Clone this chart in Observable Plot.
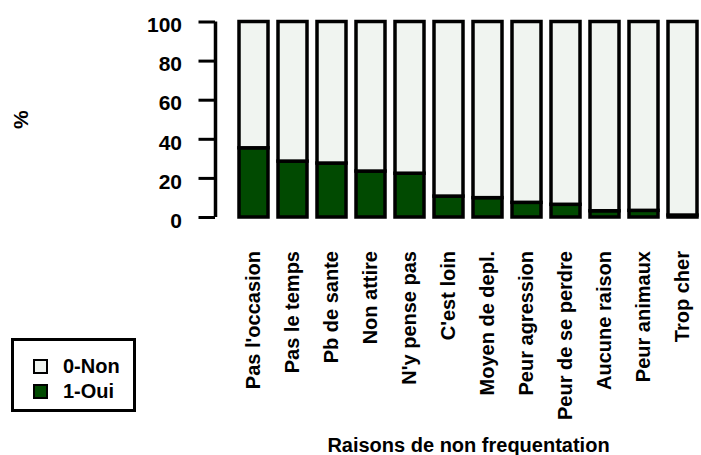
<!DOCTYPE html>
<html>
<head>
<meta charset="utf-8">
<script src="https://cdn.jsdelivr.net/npm/d3@7"></script>
<script src="https://cdn.jsdelivr.net/npm/@observablehq/plot@0.6"></script>
<style>
  html, body { margin: 0; padding: 0; background: #fff; }
  #wrap { position: relative; width: 701px; height: 455px; overflow: hidden; }
  #legend {
    position: absolute; left: 11px; top: 338px; width: 119px; height: 68px;
    border: 3.5px solid #000; background: #fff;
    font-family: "Liberation Sans", Arial, sans-serif; font-weight: bold; font-size: 20px;
  }
  .row { position: absolute; left: 19px; display: flex; align-items: center; }
  .sw { width: 11px; height: 11px; border: 2.5px solid #000; margin-right: 15px; }
</style>
</head>
<body>
<div id="wrap"><div id="chart"></div><div id="legend"></div></div>
<script>
const categories = ["Pas l'occasion", "Pas le temps", "Pb de sante", "Non attire", "N'y pense pas", "C'est loin", "Moyen de depl.", "Peur agression", "Peur de se perdre", "Aucune raison", "Peur animaux", "Trop cher"];
const oui = [35.4, 28.6, 27.6, 23.5, 22.4, 10.7, 9.9, 7.5, 6.5, 3.2, 3.4, 1.0];
const non = [64.6, 71.4, 72.4, 76.5, 77.6, 89.3, 90.1, 92.5, 93.5, 96.8, 96.6, 99.0];
const groups = ["0-Non", "1-Oui"];
const colors = ["#f0f4f0", "#014a01"];
const yTicks = [0, 20, 40, 60, 80, 100];

const data = categories.flatMap((c, i) => [
  {cat: c, grp: "1-Oui", v: oui[i]},
  {cat: c, grp: "0-Non", v: non[i]}
]);

const fam = "'Liberation Sans', Arial, sans-serif";
const W = 701, ML = 235, MR = 0, AXIS_SHIFT = 20;

const chart = Plot.plot({
  width: W,
  height: 455,
  marginLeft: ML,
  marginRight: MR,
  marginTop: 21.5,
  marginBottom: 238,
  style: {fontFamily: fam, fontSize: "20px", fontWeight: "bold", background: "#fff", color: "#000"},
  x: {domain: categories, paddingInner: 0.25, paddingOuter: 0},
  y: {domain: [0, 100]},
  color: {domain: groups, range: colors},
  marks: [
    Plot.barY(data, {x: "cat", y: "v", fill: "grp", stroke: "#000", strokeWidth: 3.5}),
    // y axis line: a rule at the frame's centre, shifted to the left edge of the frame and into the margin
    Plot.ruleX([yTicks[0]], {x: null, y1: () => yTicks[0], y2: () => yTicks[yTicks.length - 1],
      dx: -((W - ML - MR) / 2 + AXIS_SHIFT), stroke: "#000", strokeWidth: 3.5}),
    // tick marks only
    Plot.axisY({ticks: yTicks, tickSize: 16.5, dx: -AXIS_SHIFT, strokeWidth: 3, stroke: "#000", tickFormat: () => "", label: null}),
    // tick labels + title
    Plot.axisY({ticks: yTicks, tickSize: 0, tickPadding: 33.5, dx: -AXIS_SHIFT, dy: 3.5,
      fontFamily: fam, fontSize: 21, fontWeight: "bold",
      label: "%", labelAnchor: "center", labelArrow: false, labelOffset: 222}),
    Plot.axisX({tickRotate: -90, tickSize: 0, tickPadding: 33.5, fontFamily: fam, fontSize: 20, fontWeight: "bold",
      label: "Raisons de non frequentation", labelAnchor: "center", labelArrow: false, labelOffset: 234})
  ]
});
document.getElementById("chart").appendChild(chart);

const legend = document.getElementById("legend");
groups.forEach((g, i) => {
  const row = document.createElement("div");
  row.className = "row";
  row.style.top = (14 + i * 25) + "px";
  const sw = document.createElement("div");
  sw.className = "sw";
  sw.style.background = colors[i];
  const t = document.createElement("span");
  t.textContent = g;
  row.appendChild(sw);
  row.appendChild(t);
  legend.appendChild(row);
});
</script>
</body>
</html>
